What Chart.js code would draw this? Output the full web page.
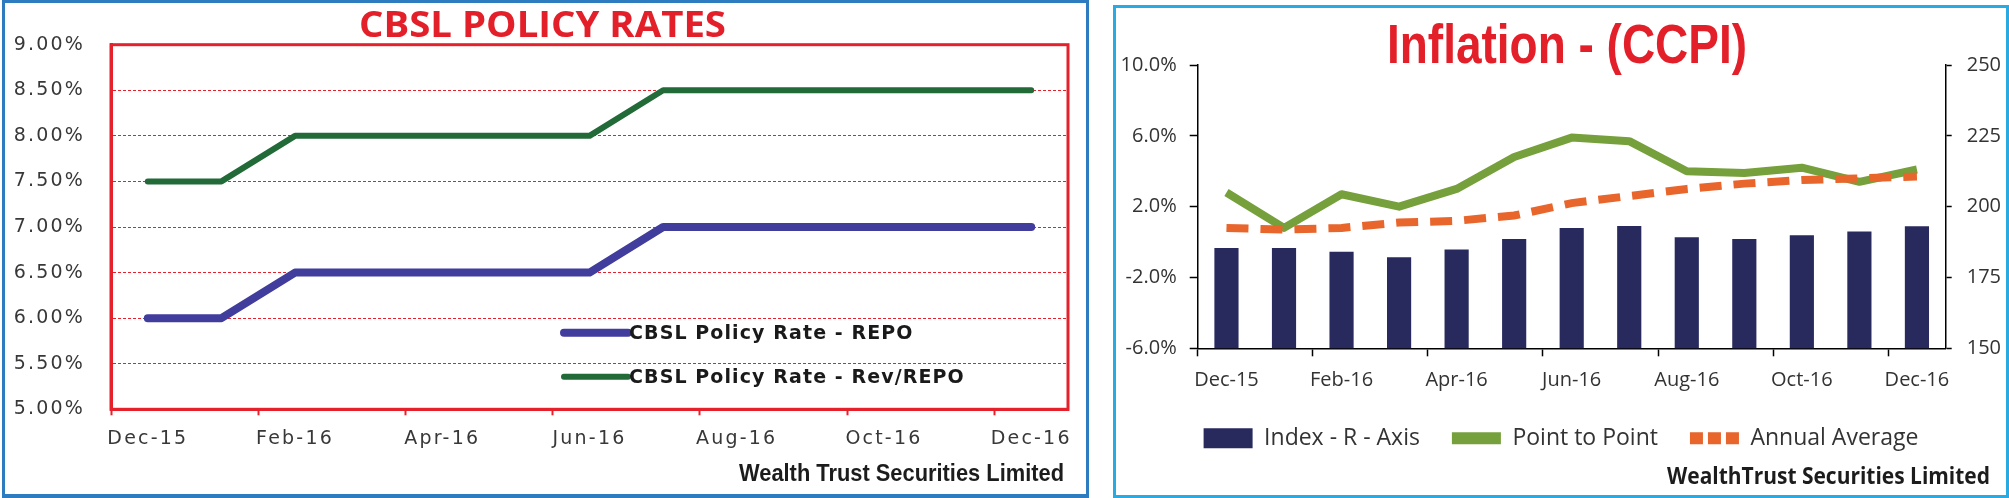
<!DOCTYPE html>
<html><head><meta charset="utf-8">
<script src="https://cdn.jsdelivr.net/npm/chart.js@4"></script>
<style>
html,body{margin:0;padding:0;background:#fff;}
body{width:2009px;height:498px;position:relative;overflow:hidden;}
.panel{position:absolute;box-sizing:border-box;}
#p1{left:2px;top:0;width:1087px;height:498px;border:3px solid #2d7cbf;border-bottom-width:4px;}
#p2{left:1113px;top:5px;width:896px;height:493px;border:3px solid #2aaae2;}
canvas{position:absolute;}
#c1{left:0;top:0;}
#c2{left:1116px;top:0;}
.txt{position:absolute;white-space:nowrap;transform-origin:0 0;line-height:1;margin:0;}
</style></head>
<body>
<div class="panel" id="p1"></div>
<div class="panel" id="p2"></div>
<canvas id="c1" width="1084" height="498"></canvas>
<canvas id="c2" width="890" height="498"></canvas>
<div class="txt" id="t1" style="color:#e3202a">CBSL POLICY RATES</div>
<div class="txt" id="t2" style="color:#e3202a">Inflation - (CCPI)</div>
<div class="txt" id="f1" style="color:#1c1c1c">Wealth Trust Securities Limited</div>
<div class="txt" id="f2" style="color:#1c1c1c">WealthTrust Securities Limited</div>
<script>
// ---------- data ----------
const months = ['Dec-15','Jan-16','Feb-16','Mar-16','Apr-16','May-16','Jun-16','Jul-16','Aug-16','Sep-16','Oct-16','Nov-16','Dec-16'];
const repoRate    = [6.00,6.00,6.50,6.50,6.50,6.50,6.50,7.00,7.00,7.00,7.00,7.00,7.00];
const revRepoRate = [7.50,7.50,8.00,8.00,8.00,8.00,8.00,8.50,8.50,8.50,8.50,8.50,8.50];
const ccpiIndex     = [185.4,185.4,184.1,182.1,184.9,188.6,192.5,193.2,189.2,188.6,189.9,191.2,193.1];
const pointToPoint  = [2.8,0.8,2.7,2.0,3.0,4.8,5.9,5.7,4.0,3.9,4.2,3.4,4.1];
const annualAverage = [0.8,0.7,0.8,1.1,1.2,1.5,2.2,2.6,3.0,3.3,3.5,3.6,3.7];
const policySeriesNames = ['CBSL Policy Rate - REPO','CBSL Policy Rate - Rev/REPO'];
const inflationSeriesNames = ['Index - R - Axis','Point to Point','Annual Average'];

const RED = '#e5212b';
const CLEAR = 'rgba(0,0,0,0)';

// ---------- headline / footer text placement ----------
function placeText(id, font, left, width, baseline){
  const el = document.getElementById(id);
  el.style.font = font;
  el.style.lineHeight = '1';
  const ctx = document.createElement('canvas').getContext('2d');
  ctx.font = font;
  const m = ctx.measureText(el.textContent);
  const fs = parseFloat(font.match(/(\d+(\.\d+)?)px/)[1]);
  const asc = m.fontBoundingBoxAscent, desc = m.fontBoundingBoxDescent;
  const off = (fs - (asc + desc)) / 2 + asc;
  el.style.left = left + 'px';
  el.style.top = (baseline - off) + 'px';
  el.style.transform = 'scaleX(' + (width / m.width) + ')';
}
placeText('t1', 'bold 36px "Open Sans"', 359, 367, 37.7);
placeText('t2', 'bold 56px "Liberation Sans"', 1387, 360, 63.3);
placeText('f1', 'bold 24px "Liberation Sans"', 739, 325, 481.7);
placeText('f2', 'bold 23px "Open Sans"', 1667, 323, 484);

// ---------- plugins ----------
const spacing = {
  id: 'spacing',
  beforeDraw(chart, args, opts) { chart.ctx.letterSpacing = opts.value; },
  afterDraw(chart) { chart.ctx.letterSpacing = '0px'; }
};
const frame = {
  id: 'frame',
  beforeDatasetsDraw(chart, args, opts) {
    const {ctx, chartArea: a} = chart;
    ctx.save();
    ctx.strokeStyle = opts.color; ctx.lineWidth = opts.width;
    ctx.strokeRect(a.left, a.top, a.right - a.left, a.bottom - a.top);
    ctx.restore();
  }
};
const insideLegend = {
  id: 'insideLegend',
  afterDatasetsDraw(chart, args, opts) {
    const {ctx, chartArea: a} = chart;
    chart.data.datasets.forEach((ds, i) => {
      const y = a.bottom + opts.rows[i];
      const x0 = a.left + opts.x;
      ctx.save();
      ctx.strokeStyle = ds.borderColor; ctx.lineWidth = ds.borderWidth; ctx.lineCap = 'round';
      ctx.beginPath(); ctx.moveTo(x0, y); ctx.lineTo(x0 + opts.len, y); ctx.stroke();
      ctx.fillStyle = opts.color; ctx.font = opts.font; ctx.textBaseline = 'middle';
      ctx.letterSpacing = opts.spacing;
      ctx.fillText(ds.label, x0 + opts.len + 1, y + 1);
      ctx.restore();
    });
  }
};

// ---------- chart 1: CBSL policy rates ----------
const leftFont = {family: '"DejaVu Sans"', size: 19};
new Chart(document.getElementById('c1'), {
  type: 'line',
  data: {
    labels: months,
    datasets: [
      {label: policySeriesNames[0], data: repoRate, borderColor: '#413d9d', borderWidth: 8, pointRadius: 0, tension: 0, borderCapStyle: 'round', borderJoinStyle: 'round'},
      {label: policySeriesNames[1], data: revRepoRate, borderColor: '#226a38', borderWidth: 6, pointRadius: 0, tension: 0, borderCapStyle: 'round', borderJoinStyle: 'round'}
    ]
  },
  options: {
    responsive: false, animation: false,
    layout: {padding: {left: 0, top: 44.7, right: 16, bottom: 0}},
    plugins: {
      legend: {display: false}, tooltip: {enabled: false},
      spacing: {value: '2.2px'},
      frame: {color: RED, width: 3},
      insideLegend: {x: 453, len: 64, rows: [-76.5, -32.6], color: '#1a1a1a', font: 'bold 19px "DejaVu Sans"', spacing: '1.1px'}
    },
    scales: {
      x: {
        offset: true,
        grid: {offset: true, drawOnChartArea: false, tickLength: 6, tickWidth: 2, tickColor: c => c.index % 2 === 0 ? RED : CLEAR},
        border: {color: RED, width: 3},
        ticks: {autoSkip: false, maxRotation: 0, padding: 12, color: '#383838', font: leftFont, callback: (v, i) => i % 2 === 0 ? months[i] : ''},
        afterFit: s => { s.height = 88.7; }
      },
      y: {
        min: 5, max: 9,
        ticks: {stepSize: 0.5, padding: 26, color: '#383838', font: leftFont, callback: v => v.toFixed(2) + '%'},
        grid: {color: RED, lineWidth: 1, drawTicks: false},
        border: {color: RED, width: 3, dash: [3, 2]},
        afterFit: s => { s.width = 111; }
      }
    }
  },
  plugins: [spacing, frame, insideLegend]
});

// ---------- chart 2: inflation (CCPI) ----------
const rightFont = {family: '"Open Sans"', size: 20};
new Chart(document.getElementById('c2'), {
  data: {
    labels: months,
    datasets: [
      {type: 'bar', label: inflationSeriesNames[0], data: ccpiIndex, yAxisID: 'y1', backgroundColor: '#282a5e', barPercentage: 0.42, categoryPercentage: 1, order: 3},
      {type: 'line', label: inflationSeriesNames[1], data: pointToPoint, yAxisID: 'y', borderColor: '#76a03c', borderWidth: 8, pointRadius: 0, tension: 0, borderJoinStyle: 'round', order: 2},
      {type: 'line', label: inflationSeriesNames[2], data: annualAverage, yAxisID: 'y', borderColor: '#e8652c', borderWidth: 8, borderDash: [22, 12], pointRadius: 0, tension: 0, order: 1}
    ]
  },
  options: {
    responsive: false, animation: false,
    layout: {padding: {left: 0, top: 65, right: 0, bottom: 38.2}},
    plugins: {
      tooltip: {enabled: false},
      legend: {
        position: 'bottom',
        labels: {
          usePointStyle: true, pointStyleWidth: 49, boxHeight: 20, padding: 32, color: '#333', font: {family: '"Open Sans"', size: 23},
          generateLabels: chart => chart.data.datasets.map((ds, i) => {
            const isBar = ds.type === 'bar';
            return {
              text: ds.label, datasetIndex: i, hidden: false, fontColor: '#333',
              fillStyle: isBar ? ds.backgroundColor : CLEAR,
              strokeStyle: isBar ? ds.backgroundColor : ds.borderColor,
              lineWidth: isBar ? 0 : 12,
              lineDash: ds.borderDash ? [13, 5] : [],
              lineCap: 'butt',
              pointStyle: isBar ? 'rect' : 'line'
            };
          })
        }
      }
    },
    scales: {
      x: {
        offset: true,
        grid: {offset: true, drawOnChartArea: false, tickLength: 8, tickWidth: 1.5, tickColor: c => c.index % 2 === 0 ? '#000' : CLEAR},
        border: {color: '#000', width: 1.5},
        ticks: {autoSkip: false, maxRotation: 0, padding: 12, color: '#333', font: rightFont, callback: (v, i) => i % 2 === 0 ? months[i] : ''},
        afterFit: s => { s.height = 46.5; }
      },
      y: {
        position: 'left', min: -6, max: 10,
        ticks: {stepSize: 4, padding: 13, color: '#333', font: rightFont, callback: v => v.toFixed(1) + '%'},
        grid: {drawOnChartArea: false, tickLength: 8, tickWidth: 1.5, color: '#000'},
        border: {color: '#000', width: 1.5},
        afterFit: s => { s.width = 81.7; }
      },
      y1: {
        position: 'right', min: 150, max: 250,
        ticks: {stepSize: 25, padding: 15, color: '#333', font: rightFont},
        grid: {drawOnChartArea: false, tickLength: 6, tickWidth: 1.5, color: '#000'},
        border: {color: '#000', width: 1.5},
        afterFit: s => { s.width = 60.3; }
      }
    }
  }
});
</script>
</body></html>
